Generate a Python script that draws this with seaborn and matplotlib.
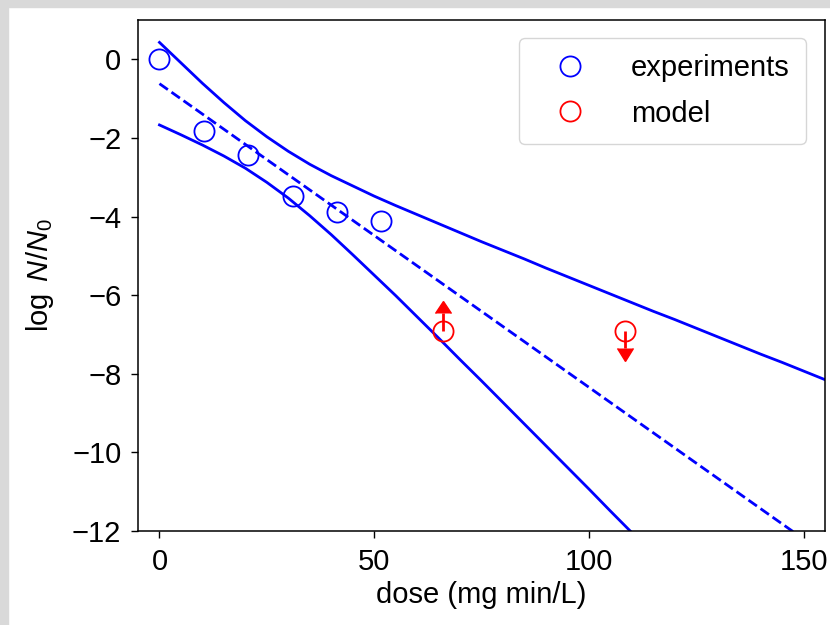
import numpy as np
import pandas as pd
import matplotlib
matplotlib.use("Agg")
import matplotlib.pyplot as plt
from matplotlib.lines import Line2D
from matplotlib.patches import Rectangle
import seaborn as sns

# measured points
exp_dose = [0.0, 10.3, 20.6, 31.0, 41.3, 51.6]
exp_logN = [0.0, -1.83, -2.43, -3.48, -3.88, -4.12]

model_dose = [66.0, 108.4]
model_logN = [-6.9, -6.9]
model_lower_limit = [True, False]   # arrow up
model_upper_limit = [False, True]   # arrow down
model_arrow = [0.45, 0.45]

# fit line (dashed) and band (solid)
fit_dose = [0.0, 155.0]
fit_logN = [-0.62, -12.59]

upper_dose = [0, 5, 10, 15, 20, 25, 30, 35, 40, 45, 50, 55, 60, 65, 70, 75, 80,
              85, 90, 95, 100, 105, 110, 115, 120, 125, 130, 135, 140, 145, 150, 155]
upper_logN = [0.43, -0.09, -0.61, -1.10, -1.56, -1.97, -2.34, -2.67, -2.96, -3.22,
              -3.48, -3.72, -3.95, -4.18, -4.41, -4.64, -4.86, -5.08, -5.31, -5.53,
              -5.75, -5.97, -6.19, -6.41, -6.62, -6.84, -7.06, -7.28, -7.50, -7.71,
              -7.93, -8.15]

lower_dose = [0, 5, 10, 15, 20, 25, 30, 35, 40, 45, 50, 55, 60, 65, 70, 75, 80,
              85, 90, 95, 100, 105, 110, 115, 120]
lower_logN = [-1.67, -1.92, -2.18, -2.46, -2.77, -3.13, -3.53, -3.98, -4.46, -4.97,
              -5.49, -6.01, -6.55, -7.09, -7.64, -8.18, -8.73, -9.28, -9.83, -10.38,
              -10.93, -11.49, -12.04, -12.59, -13.15]

plt.rcParams['font.family'] = ['Liberation Sans', 'DejaVu Sans']
plt.rcParams['mathtext.fontset'] = 'custom'
plt.rcParams['mathtext.rm'] = 'Liberation Sans'
plt.rcParams['mathtext.it'] = 'Liberation Sans:italic'
plt.rcParams['font.size'] = 20

fig = plt.figure(figsize=(8.3, 6.25), dpi=100)
ax = fig.add_axes([138/830, 1 - 531/625, 687/830, 511/625])

sns.lineplot(x=upper_dose, y=upper_logN, color='blue', lw=2, ax=ax, errorbar=None)
sns.lineplot(x=lower_dose, y=lower_logN, color='blue', lw=2, ax=ax, errorbar=None)
sns.lineplot(x=fit_dose, y=fit_logN, color='blue', lw=2, ls='--', dashes=(4, 2),
             ax=ax, errorbar=None)

sns.lineplot(x=exp_dose, y=exp_logN, ls='', marker='o', ms=14.5, mfc='none', mec='blue',
             mew=1.3, ax=ax, errorbar=None)
eb = ax.errorbar(model_dose, model_logN, yerr=model_arrow, lolims=model_lower_limit,
                 uplims=model_upper_limit, fmt='none', ecolor='red', elinewidth=2)
for cap in eb[1]:
    cap.set_markerfacecolor('red')
    cap.set_markeredgecolor('red')
    cap.set_markersize(12)
sns.lineplot(x=model_dose, y=model_logN, ls='', marker='o', ms=14.5, mfc='none', mec='red',
             mew=1.3, ax=ax, errorbar=None)

ax.set_xlim(-5, 155)
ax.set_ylim(-12, 1)
ax.set_xticks([0, 50, 100, 150])
ax.set_yticks([0, -2, -4, -6, -8, -10, -12])
ax.tick_params(length=5, width=1, labelsize=21, pad=7)
ax.set_xlabel('dose (mg min/L)', fontsize=21)
ax.set_ylabel(r'$\log\ N/N_0$', fontsize=21)
ax.xaxis.set_label_coords(0.5, -0.098)
ax.yaxis.set_label_coords(-0.12, 0.5)
for s in ax.spines.values():
    s.set_linewidth(1.1)

handles = [
    Line2D([], [], ls='', marker='o', ms=14.5, mfc='none', mec='blue', mew=1.3),
    Line2D([], [], ls='', marker='o', ms=14.5, mfc='none', mec='red', mew=1.3),
]
ax.legend(handles, ['experiments', 'model'], loc='upper right',
          bbox_to_anchor=(0.9723, 0.9648), borderaxespad=0, handlelength=2.4,
          handletextpad=0.9, borderpad=0.55, labelspacing=0.6, fontsize=21)

# grey screenshot border on top and left
fig.patches.append(Rectangle((0, 1 - 7/625), 1, 7/625, transform=fig.transFigure,
                             color='#d9d9d9', zorder=10))
fig.patches.append(Rectangle((0, 0), 8/830, 1, transform=fig.transFigure,
                             color='#d9d9d9', zorder=10))

fig.savefig('out.png', dpi=100)
